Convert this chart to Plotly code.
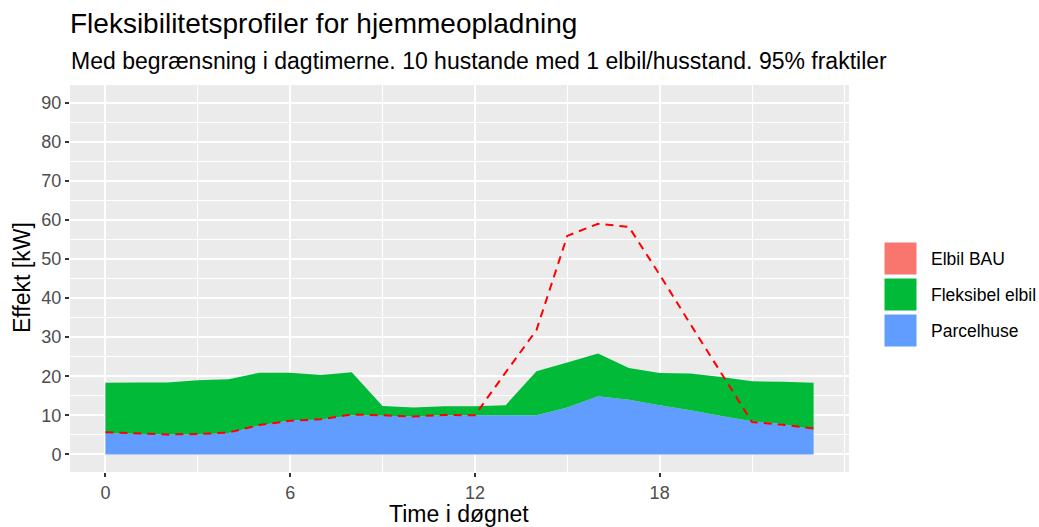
import plotly.graph_objects as go

# Hourly load profiles (kW), hour of day 0-23
hours = list(range(24))
parcelhuse = [5.5, 5.3, 5.1, 5.1, 5.5, 7.4, 8.7, 8.9, 10.0, 9.9, 9.7, 10.0,
              10.0, 10.0, 10.0, 12.0, 14.9, 14.0, 12.6, 11.3, 9.8, 8.5, 7.8, 6.4]
# Stacked total: households + flexible EV charging
fleksibel_total = [18.3, 18.4, 18.4, 19.0, 19.2, 20.9, 20.9, 20.3, 21.0, 12.4, 12.0, 12.3,
                   12.3, 12.6, 21.3, 23.5, 25.8, 22.1, 20.8, 20.7, 19.8, 18.7, 18.6, 18.3]
# Total with business-as-usual EV charging
bau_total = [5.7, 5.4, 5.1, 5.2, 5.6, 7.5, 8.6, 9.0, 10.2, 10.0, 9.7, 10.1,
             10.0, 21.0, 31.8, 55.9, 59.0, 58.2, 46.0, 33.3, 20.7, 8.3, 7.6, 6.6]

series_names = ["Elbil BAU", "Fleksibel elbil", "Parcelhuse"]
series_colors = ["#F8766D", "#00BA38", "#619CFF"]
x_ticks = [0, 6, 12, 18]
y_ticks = list(range(0, 100, 10))

W, H = 1039, 527
ML, MR, MT, MB = 70, 190, 85, 55
PW, PH = W - ML - MR, H - MT - MB
FONT = "Liberation Sans, Arial, sans-serif"


def px_x(px):
    return (px - ML) / PW


def px_y(py):
    return 1 + (MT - py) / PH


fig = go.Figure()
fig.add_trace(go.Scatter(x=hours, y=parcelhuse, mode="none", fill="tozeroy",
                         fillcolor=series_colors[2], showlegend=False, hoverinfo="skip"))
fig.add_trace(go.Scatter(x=hours, y=fleksibel_total, mode="none", fill="tonexty",
                         fillcolor=series_colors[1], showlegend=False, hoverinfo="skip"))
fig.add_trace(go.Scatter(x=hours, y=bau_total, mode="lines",
                         line=dict(color="#FF0000", width=2, dash="8px,6px"),
                         showlegend=False, hoverinfo="skip"))

grid = "#FFFFFF"
fig.update_xaxes(range=[-1.15, 24.15], tickvals=x_ticks, ticks="outside", ticklen=4,
                 tickwidth=1.5, tickcolor="#333333", showline=False, zeroline=False,
                 gridcolor=grid, gridwidth=2,
                 minor=dict(tickvals=[3, 9, 15, 21, 24], showgrid=True, gridcolor=grid,
                            gridwidth=1, ticks=""),
                 tickfont=dict(family=FONT, size=18, color="#4D4D4D"))
fig.update_yaxes(range=[-4.5, 94.5], tickvals=y_ticks, ticks="outside", ticklen=4,
                 tickwidth=1.5, tickcolor="#333333", showline=False, zeroline=False,
                 gridcolor=grid, gridwidth=2,
                 minor=dict(tickvals=[5, 15, 25, 35, 45, 55, 65, 75, 85], showgrid=True,
                            gridcolor=grid, gridwidth=1, ticks=""),
                 tickfont=dict(family=FONT, size=18, color="#4D4D4D"))

annotations = [
    dict(text="Fleksibilitetsprofiler for hjemmeopladning", x=px_x(68), y=px_y(23),
         xanchor="left", yanchor="middle", font=dict(family=FONT, size=28, color="#000000")),
    dict(text="Med begrænsning i dagtimerne. 10 hustande med 1 elbil/husstand. 95% fraktiler",
         x=px_x(69), y=px_y(61), xanchor="left", yanchor="middle",
         font=dict(family=FONT, size=23, color="#000000")),
    dict(text="Time i døgnet", x=px_x(459), y=px_y(514), xanchor="center", yanchor="middle",
         font=dict(family=FONT, size=23, color="#000000")),
    dict(text="Effekt [kW]", x=px_x(22), y=px_y(278), xanchor="center", yanchor="middle",
         textangle=-90, font=dict(family=FONT, size=23, color="#000000")),
]
shapes = []
box_tops = [242, 278, 314]
for name, color, top in zip(series_names, series_colors, box_tops):
    shapes.append(dict(type="rect", xref="paper", yref="paper",
                       x0=px_x(884), x1=px_x(917), y0=px_y(top), y1=px_y(top + 33),
                       fillcolor=color, line=dict(color="#FFFFFF", width=1)))
    annotations.append(dict(text=name, x=px_x(929), y=px_y(top + 16.5), xanchor="left",
                            yanchor="middle", font=dict(family=FONT, size=17.5, color="#000000")))

for a in annotations:
    a.update(xref="paper", yref="paper", showarrow=False)

fig.update_layout(width=W, height=H, margin=dict(l=ML, r=MR, t=MT, b=MB),
                  paper_bgcolor="#FFFFFF", plot_bgcolor="#EBEBEB",
                  showlegend=False, annotations=annotations, shapes=shapes,
                  font=dict(family=FONT))

fig.write_html("out.html")
